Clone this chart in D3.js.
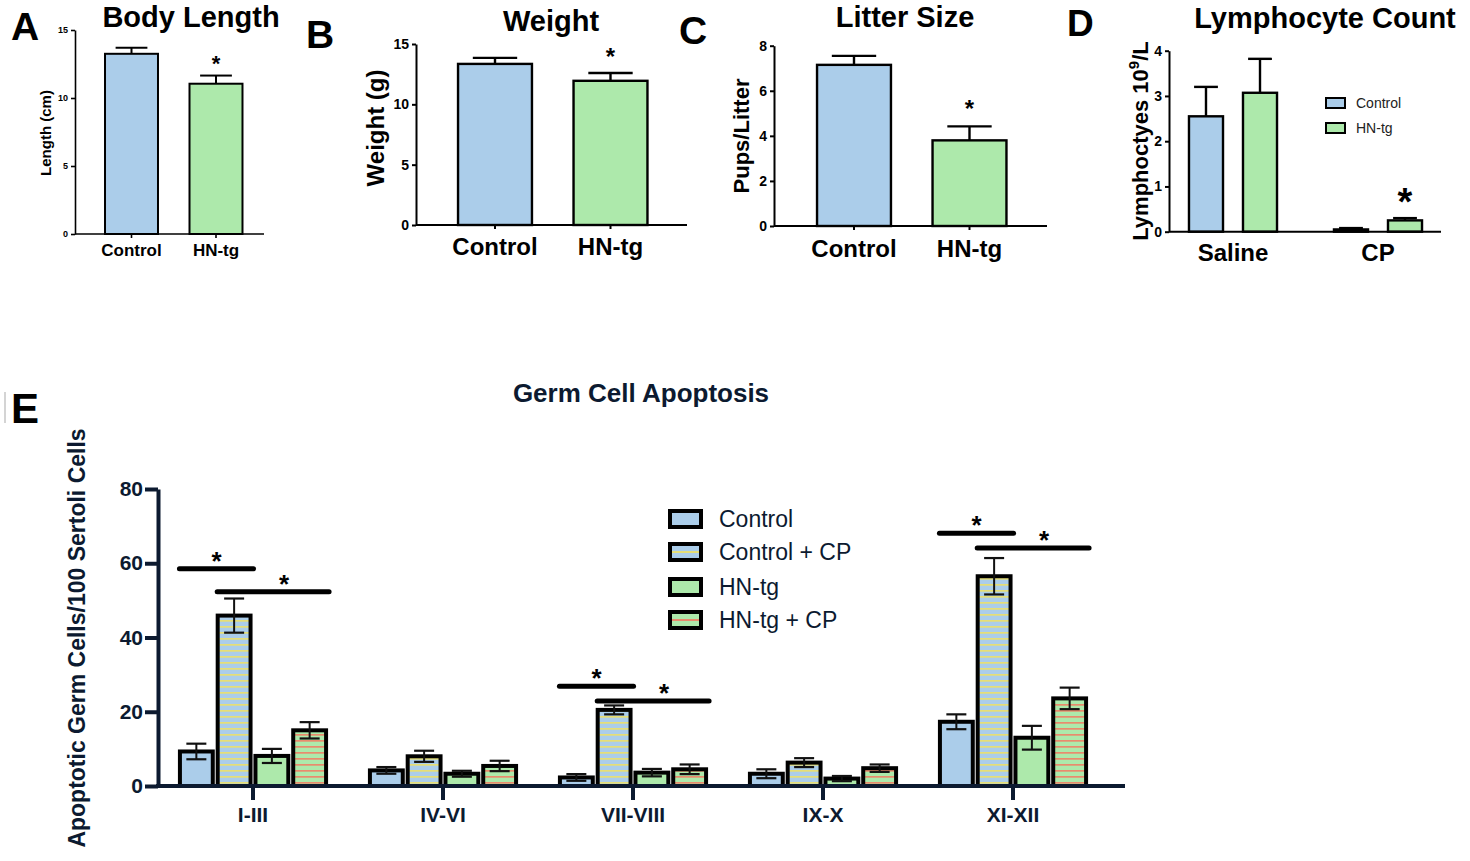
<!DOCTYPE html>
<html><head><meta charset="utf-8">
<script src="https://cdn.jsdelivr.net/npm/d3@7"></script>
<style>
body{margin:0;background:#fff;}
svg{display:block;}
</style></head><body>
<svg id="chart" width="1470" height="861"></svg>
<script>
// ---------- DATA ----------
const groupsAB = ["Control", "HN-tg"];
const lengthMean = [13.25, 11.05];
const lengthSem = [0.45, 0.6];
const weightMean = [13.35, 11.95];
const weightSem = [0.5, 0.65];
const litterMean = [7.15, 3.8];
const litterSem = [0.4, 0.62];
const ticksLength = [0, 5, 10, 15];
const ticksWeight = [0, 5, 10, 15];
const ticksLitter = [0, 2, 4, 6, 8];

const lymphTreat = ["Saline", "CP"];
const lymphSeries = ["Control", "HN-tg"];
const lymphControl = [2.55, 0.05];
const lymphControlSem = [0.65, 0.03];
const lymphHN = [3.07, 0.25];
const lymphHNSem = [0.75, 0.05];
const ticksLymph = [0, 1, 2, 3, 4];

const stages = ["I-III", "IV-VI", "VII-VIII", "IX-X", "XI-XII"];
const apoSeries = ["Control", "Control + CP", "HN-tg", "HN-tg + CP"];
const apoControl = [9.3, 4.2, 2.3, 3.3, 17.3];
const apoControlSem = [2.1, 0.9, 0.9, 1.2, 2.0];
const apoControlCP = [45.9, 8.0, 20.5, 6.3, 56.5];
const apoControlCPSem = [4.6, 1.5, 1.2, 1.2, 4.9];
const apoHN = [8.1, 3.3, 3.6, 2.0, 13.0];
const apoHNSem = [1.9, 0.8, 1.0, 0.7, 3.2];
const apoHNCP = [15.0, 5.4, 4.5, 4.8, 23.6];
const apoHNCPSem = [2.2, 1.4, 1.3, 1.0, 2.9];
const ticksApo = [0, 20, 40, 60, 80];

const sigStage = ["I-III", "I-III", "VII-VIII", "VII-VIII", "XI-XII", "XI-XII"];
const sigFrom = [0, 1, 0, 1, 0, 1];
const sigTo = [1, 3, 1, 3, 1, 3];
const sigLevel = [58.5, 52.3, 26.9, 22.9, 68.1, 64.1];

// ---------- STYLE ----------
const FONT = "'Liberation Sans', Arial, Helvetica, sans-serif";
const BLUE = "#abcdea", GREEN = "#ade9ab", YEL = "#e6de76", ORG = "#e98b6d", NAVY = "#0c1a30";
const fmtInt = d3.format("d");

const svg = d3.select("#chart").attr("font-family", FONT);
const defs = svg.append("defs");
function stripe(id, bg, line) {
  const p = defs.append("pattern").attr("id", id).attr("patternUnits", "userSpaceOnUse")
    .attr("width", 8).attr("height", 6);
  p.append("rect").attr("width", 8).attr("height", 6).attr("fill", bg);
  p.append("rect").attr("y", 2).attr("width", 8).attr("height", 1.7).attr("fill", line);
}
stripe("stripeBlue", BLUE, YEL);
stripe("stripeGreen", GREEN, ORG);

function star(g, x, cy, size, color) {
  g.append("text").attr("x", x).attr("y", cy + size * 0.57).attr("text-anchor", "middle")
    .attr("font-size", size).attr("font-weight", "bold").attr("fill", color || "#000").text("*");
}
function txt(g, x, y, s, size, opts) {
  opts = opts || {};
  return g.append("text").attr("x", x).attr("y", y).attr("font-size", size)
    .attr("font-weight", opts.weight || "bold").attr("text-anchor", opts.anchor || "start")
    .attr("fill", opts.fill || "#000").text(s);
}
function ylabel(g, x, cy, s, size, fill) {
  return g.append("text").attr("transform", `translate(${x},${cy}) rotate(-90)`)
    .attr("text-anchor", "middle").attr("font-size", size).attr("font-weight", "bold")
    .attr("fill", fill || "#000").text(s);
}
function styleAxis(a, size, color, width) {
  a.attr("font-family", FONT).attr("font-size", size).attr("font-weight", "bold")
    .style("color", color);
  a.selectAll("path,line").attr("stroke-width", width);
}

// ---------- PANELS A-C ----------
function barPanel(o) {
  const g = svg.append("g");
  const y = d3.scaleLinear().domain([o.yTicks[0], o.yTicks[o.yTicks.length - 1]]).range(o.yRange);
  const x = d3.scaleBand().domain(o.cats).range(o.xRange).paddingInner(o.pad).paddingOuter(o.pad / 2);
  const bw = x.bandwidth();
  g.selectAll("rect.bar").data(o.cats).join("rect").attr("class", "bar")
    .attr("x", d => x(d)).attr("width", bw)
    .attr("y", (d, i) => y(o.means[i])).attr("height", (d, i) => y(0) - y(o.means[i]))
    .attr("fill", (d, i) => [BLUE, GREEN][i]).attr("stroke", "#000").attr("stroke-width", o.barStroke);
  o.cats.forEach((c, i) => {
    const cx = x(c) + bw / 2, top = y(o.means[i] + o.sems[i]);
    g.append("line").attr("x1", cx).attr("x2", cx).attr("y1", y(o.means[i])).attr("y2", top)
      .attr("stroke", "#000").attr("stroke-width", o.errStroke);
    g.append("line").attr("x1", cx - bw * 0.3).attr("x2", cx + bw * 0.3).attr("y1", top).attr("y2", top)
      .attr("stroke", "#000").attr("stroke-width", o.errStroke);
    if (i === 1) star(g, cx, top - o.starGap, o.starSize);
  });
  const ya = g.append("g").attr("transform", `translate(${o.axisX},0)`)
    .call(d3.axisLeft(y).tickValues(o.yTicks).tickFormat(fmtInt).tickSize(4).tickSizeOuter(0).tickPadding(3));
  styleAxis(ya, o.tickFont, "#000", o.axisStroke);
  const xa = g.append("g").attr("transform", `translate(0,${y(0)})`)
    .call(d3.axisBottom(x).tickSize(4).tickSizeOuter(0).tickPadding(o.xPad));
  styleAxis(xa, o.catFont, "#000", o.axisStroke);
  xa.select(".domain").attr("d", `M${o.axisX},0H${o.axisEnd}`);
  ylabel(g, o.labelX, o.labelY, o.label, o.labelFont);
  txt(g, o.titleX, o.titleY, o.title, 29, { anchor: "middle" });
  txt(g, o.letterX, o.letterY, o.letter, 39);
}

barPanel({ cats: groupsAB, means: lengthMean, sems: lengthSem, yTicks: ticksLength,
  yRange: [234, 30], xRange: [89.25, 258.25], pad: 0.373, axisX: 75, axisEnd: 264,
  barStroke: 2, errStroke: 2, axisStroke: 1.6, tickFont: 9, catFont: 17, xPad: 6,
  starGap: 17, starSize: 22, label: "Length (cm)", labelX: 51, labelY: 133, labelFont: 15,
  title: "Body Length", titleX: 191, titleY: 27, letter: "A", letterX: 11, letterY: 40 });

barPanel({ cats: groupsAB, means: weightMean, sems: weightSem, yTicks: ticksWeight,
  yRange: [225, 44], xRange: [437.25, 668.25], pad: 0.36, axisX: 416, axisEnd: 687,
  barStroke: 2.4, errStroke: 2.4, axisStroke: 2, tickFont: 14, catFont: 24, xPad: 9,
  starGap: 22, starSize: 24, label: "Weight (g)", labelX: 384, labelY: 128, labelFont: 24,
  title: "Weight", titleX: 551, titleY: 31, letter: "B", letterX: 306, letterY: 48 });

barPanel({ cats: groupsAB, means: litterMean, sems: litterSem, yTicks: ticksLitter,
  yRange: [226, 45.7], xRange: [796.25, 1027.25], pad: 0.36, axisX: 774, axisEnd: 1047,
  barStroke: 2.4, errStroke: 2.4, axisStroke: 2, tickFont: 14, catFont: 24, xPad: 10,
  starGap: 23, starSize: 24, label: "Pups/Litter", labelX: 749, labelY: 136, labelFont: 22,
  title: "Litter Size", titleX: 905, titleY: 27, letter: "C", letterX: 679, letterY: 44 });

// ---------- PANEL D ----------
(function () {
  const g = svg.append("g");
  const y = d3.scaleLinear().domain([0, 4]).range([231.7, 50.7]);
  const x0 = d3.scaleBand().domain(lymphTreat).range([1160.5, 1450.5]).paddingInner(0.255).paddingOuter(0.1275);
  const x1 = d3.scaleBand().domain(lymphSeries).range([0, x0.bandwidth()]).paddingInner(0.37).paddingOuter(0.185);
  const means = [lymphControl, lymphHN], sems = [lymphControlSem, lymphHNSem];
  const data = lymphTreat.flatMap((t, i) => lymphSeries.map((s, j) => ({ t, s, j, v: means[j][i], e: sems[j][i] })));
  const bw = x1.bandwidth();
  g.selectAll("rect.bar").data(data).join("rect").attr("class", "bar")
    .attr("x", d => x0(d.t) + x1(d.s)).attr("width", bw)
    .attr("y", d => y(d.v)).attr("height", d => y(0) - y(d.v))
    .attr("fill", d => [BLUE, GREEN][d.j]).attr("stroke", "#000").attr("stroke-width", 2.4);
  data.forEach(d => {
    const cx = x0(d.t) + x1(d.s) + bw / 2, top = y(d.v + d.e);
    g.append("line").attr("x1", cx).attr("x2", cx).attr("y1", y(d.v)).attr("y2", top).attr("stroke", "#000").attr("stroke-width", 2.4);
    g.append("line").attr("x1", cx - bw * 0.35).attr("x2", cx + bw * 0.35).attr("y1", top).attr("y2", top).attr("stroke", "#000").attr("stroke-width", 2.4);
    if (d.t === "CP" && d.j === 1) star(g, cx, top - 25, 38);
  });
  const ya = g.append("g").attr("transform", "translate(1169,0)")
    .call(d3.axisLeft(y).tickValues(ticksLymph).tickFormat(fmtInt).tickSize(4).tickSizeOuter(0).tickPadding(3));
  styleAxis(ya, 14, "#000", 2);
  const xa = g.append("g").attr("transform", `translate(0,${y(0)})`)
    .call(d3.axisBottom(x0).tickSize(0).tickSizeOuter(0).tickPadding(12));
  styleAxis(xa, 24, "#000", 2);
  xa.select(".domain").attr("d", "M1169,0H1441");
  const lab = g.append("text").attr("transform", "translate(1148,141) rotate(-90)")
    .attr("text-anchor", "middle").attr("font-size", 22).attr("font-weight", "bold");
  lab.append("tspan").text("Lymphoctyes 10");
  lab.append("tspan").attr("dy", -9).attr("font-size", 15).text("9");
  lab.append("tspan").attr("dy", 9).text("/L");
  // legend
  lymphSeries.forEach((s, j) => {
    const cy = 103 + j * 25;
    g.append("rect").attr("x", 1326).attr("y", cy - 5).attr("width", 19).attr("height", 10)
      .attr("fill", [BLUE, GREEN][j]).attr("stroke", "#000").attr("stroke-width", 2);
    txt(g, 1356, cy + 5, s, 14, { weight: "normal", fill: "#222" });
  });
  txt(g, 1325, 28, "Lymphocyte Count", 29, { anchor: "middle" });
  txt(g, 1067, 36, "D", 37);
})();

// ---------- PANEL E ----------
(function () {
  const g = svg.append("g");
  const y = d3.scaleLinear().domain([0, 80]).range([786, 489]);
  const x0 = d3.scaleBand().domain(stages).range([158, 1108]).paddingInner(0.205).paddingOuter(0.1025);
  const x1 = d3.scaleBand().domain(apoSeries).range([0, x0.bandwidth()]).paddingInner(0.13).paddingOuter(0.065);
  const means = [apoControl, apoControlCP, apoHN, apoHNCP];
  const sems = [apoControlSem, apoControlCPSem, apoHNSem, apoHNCPSem];
  const fills = [BLUE, "url(#stripeBlue)", GREEN, "url(#stripeGreen)"];
  const bw = x1.bandwidth();
  const data = stages.flatMap((st, i) => apoSeries.map((s, j) => ({ st, s, j, v: means[j][i], e: sems[j][i] })));
  g.selectAll("rect.bar").data(data).join("rect").attr("class", "bar")
    .attr("x", d => x0(d.st) + x1(d.s)).attr("width", bw)
    .attr("y", d => y(d.v)).attr("height", d => y(0) - y(d.v))
    .attr("fill", d => fills[d.j]).attr("stroke", "#000").attr("stroke-width", 4);
  data.forEach(d => {
    const cx = x0(d.st) + x1(d.s) + bw / 2, top = y(d.v + d.e), bot = y(d.v - d.e);
    g.append("line").attr("x1", cx).attr("x2", cx).attr("y1", bot).attr("y2", top).attr("stroke", "#111").attr("stroke-width", 2);
    [top, bot].forEach(yy => g.append("line").attr("x1", cx - 10).attr("x2", cx + 10).attr("y1", yy).attr("y2", yy)
      .attr("stroke", "#111").attr("stroke-width", 2.2));
  });
  // significance brackets
  sigStage.forEach((st, k) => {
    const xa = x0(st) + x1(apoSeries[sigFrom[k]]) - 0.5;
    const xb = x0(st) + x1(apoSeries[sigTo[k]]) + bw + 3;
    const yy = y(sigLevel[k]);
    g.append("line").attr("x1", xa).attr("x2", xb).attr("y1", yy).attr("y2", yy)
      .attr("stroke", "#000").attr("stroke-width", 5).attr("stroke-linecap", "round");
    const sx = (xa + xb) / 2 + (sigTo[k] - sigFrom[k] > 1 ? 11 : 0);
    star(g, sx, yy - 14, 26);
  });
  const ya = g.append("g").attr("transform", "translate(158,0)")
    .call(d3.axisLeft(y).tickValues(ticksApo).tickFormat(fmtInt).tickSize(13).tickSizeOuter(0).tickPadding(2));
  styleAxis(ya, 21, NAVY, 4);
  const xa = g.append("g").attr("transform", `translate(0,${y(0)})`)
    .call(d3.axisBottom(x0).tickSize(14).tickSizeOuter(0).tickPadding(7));
  styleAxis(xa, 21, NAVY, 4);
  xa.select(".domain").attr("d", "M156,0H1125");
  ylabel(g, 85, 638, "Apoptotic Germ Cells/100 Sertoli Cells", 23, NAVY);
  txt(g, 641, 402, "Germ Cell Apoptosis", 26, { anchor: "middle", fill: NAVY });
  g.append("line").attr("x1", 5).attr("x2", 5).attr("y1", 392).attr("y2", 423).attr("stroke", "#d4d4d4").attr("stroke-width", 2);
  txt(g, 11, 423, "E", 42);
  // legend
  apoSeries.forEach((s, j) => {
    const cy = [519, 552, 587, 620][j];
    g.append("rect").attr("x", 670).attr("y", cy - 8).attr("width", 31).attr("height", 16)
      .attr("fill", [BLUE, BLUE, GREEN, GREEN][j]);
    if (j === 1 || j === 3) g.append("rect").attr("x", 670).attr("y", cy - 1).attr("width", 31).attr("height", 2)
      .attr("fill", j === 1 ? YEL : ORG);
    g.append("rect").attr("x", 670).attr("y", cy - 8).attr("width", 31).attr("height", 16)
      .attr("fill", "none").attr("stroke", "#000").attr("stroke-width", 4);
    txt(g, 719, cy + 8, s, 23, { weight: "normal", fill: NAVY });
  });
})();
</script>
</body></html>
